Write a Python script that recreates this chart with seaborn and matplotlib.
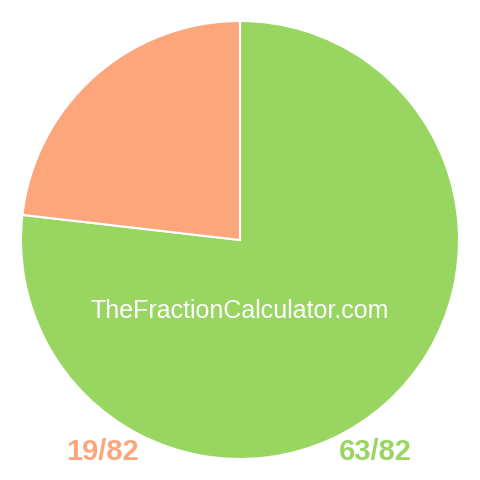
import matplotlib
matplotlib.use('Agg')
import matplotlib.pyplot as plt
import seaborn as sns

# fraction parts, largest first (drawn clockwise from 12 o'clock)
labels = ['63/82', '19/82']
values = [63, 19]
colors = ['#99d561', '#fda67c']

sns.set_theme(style='white')
plt.rcParams['font.family'] = ['Liberation Sans', 'DejaVu Sans']

fig = plt.figure(figsize=(4.8, 4.8), dpi=100)
ax = fig.add_axes([0, 0, 1, 1])

r = 219
ax.pie(values, colors=colors, startangle=90, counterclock=False, radius=1,
       wedgeprops={'edgecolor': 'white', 'linewidth': 1.5})
ax.set_xlim(-240 / r, 240 / r)
ax.set_ylim(-240 / r, 240 / r)
ax.set_aspect('equal')
ax.axis('off')

ax.text(0, -0.325, 'TheFractionCalculator.com', color='white', fontsize=18,
        ha='center', va='center')

# fraction labels under the pie
ax.text(-0.626, -0.97, labels[1], color=colors[1], fontsize=21,
        fontweight='bold', ha='center', va='center')
ax.text(0.616, -0.97, labels[0], color=colors[0], fontsize=21,
        fontweight='bold', ha='center', va='center')

fig.savefig('out.png', dpi=100)
